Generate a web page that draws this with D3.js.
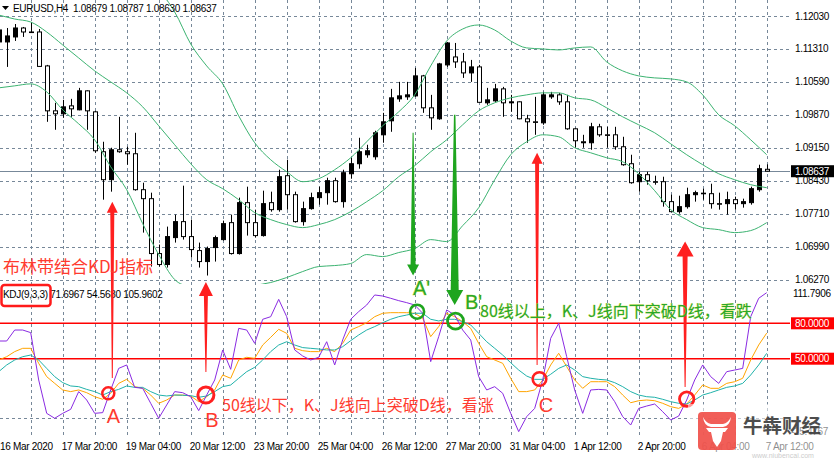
<!DOCTYPE html>
<html><head><meta charset="utf-8">
<script src="https://cdn.jsdelivr.net/npm/d3@7"></script>
<style>
body{margin:0;background:#fff;}
svg{display:block;}
text{font-family:"Liberation Sans",Arial,sans-serif;}
.cjk{font-family:"Noto Sans CJK SC",sans-serif;}
</style>
</head><body>
<svg id="c" width="834" height="459"></svg>
<script>
// ---------------- DATA ----------------
const symbolTitle = "EURUSD,H4";
const titleValues = "1.08679 1.08787 1.08630 1.08637";
const opens = [1.11463,1.11463,1.11572,1.11768,1.11681,1.11681,1.10939,1.09957,1.09892,1.10066,
 1.09979,1.10394,1.09935,1.09063,1.08452,1.09106,1.09063,1.09019,1.08233,1.08037,
 1.06837,1.06597,1.07186,1.07535,1.07208,1.06902,1.06662,1.06968,1.07142,1.07513,
 1.06837,1.0795,1.07513,1.0723,1.0795,1.07797,1.08539,1.08124,1.07535,1.07819,
 1.08059,1.08168,1.0843,1.07972,1.08582,1.08801,1.08997,1.08953,1.09433,1.09739,
 1.10219,1.10263,1.10284,1.10721,1.10023,1.09783,1.10961,1.11135,1.11026,1.10786,
 1.10917,1.10132,1.10175,1.10437,1.10132,1.10154,1.09783,1.09717,1.09695,1.10263,
 1.10306,1.10154,1.09564,1.09281,1.09259,1.09608,1.09433,1.09433,1.09172,1.08801,
 1.08408,1.08561,1.08408,1.08408,1.07972,1.07753,1.07862,1.08124,1.08146,1.08146,
 1.07928,1.07928,1.08015,1.07928,1.0795,1.08233,1.08679];
const highs = [1.11943,1.11768,1.11855,1.1179,1.11899,1.11746,1.10961,1.10132,1.10197,1.10219,
 1.10459,1.10404,1.09957,1.09281,1.0915,1.09826,1.09172,1.09477,1.08386,1.08168,
 1.07033,1.07426,1.07688,1.08321,1.07579,1.07077,1.0699,1.0723,1.07557,1.07688,
 1.08059,1.08299,1.07797,1.08212,1.0819,1.0867,1.08888,1.0819,1.07972,1.08168,
 1.08299,1.08495,1.08495,1.0867,1.08932,1.09368,1.09215,1.09521,1.09913,1.10437,
 1.1059,1.1059,1.10895,1.10743,1.10306,1.11005,1.11463,1.11441,1.11223,1.1107,
 1.10961,1.10459,1.10546,1.10481,1.10306,1.10164,1.0987,1.10263,1.10372,1.10372,
 1.1035,1.10306,1.09586,1.09433,1.09695,1.09673,1.09608,1.09608,1.0939,1.08997,
 1.08626,1.08626,1.08539,1.08517,1.08124,1.08102,1.08277,1.08212,1.08255,1.08364,
 1.08168,1.0819,1.08081,1.08037,1.08299,1.08779,1.08787];
const lows = [1.11288,1.10917,1.11485,1.11572,1.11659,1.10917,1.09717,1.09543,1.09804,1.09826,
 1.09968,1.09543,1.09041,1.08015,1.0819,1.09041,1.08779,1.08212,1.07295,1.06553,
 1.06553,1.06531,1.07077,1.07142,1.0675,1.06531,1.06357,1.06662,1.07121,1.06815,
 1.06815,1.0723,1.07186,1.07208,1.07753,1.07753,1.07797,1.07513,1.07448,1.07797,
 1.07906,1.07906,1.0795,1.07841,1.08473,1.08692,1.08932,1.08888,1.09259,1.09499,
 1.10154,1.10197,1.10263,1.09913,1.09543,1.09761,1.10917,1.10895,1.10677,1.1059,
 1.10132,1.10088,1.10154,1.09826,1.09935,1.09772,1.09259,1.09433,1.09652,1.10219,
 1.10088,1.09543,1.0915,1.0915,1.09106,1.0939,1.0915,1.09106,1.08757,1.08364,
 1.0819,1.08342,1.08342,1.07862,1.07742,1.0771,1.07819,1.07972,1.08015,1.07819,
 1.07797,1.07688,1.07797,1.07841,1.07906,1.0819,1.0863];
const closes = [1.11725,1.11594,1.11768,1.11681,1.1167,1.10928,1.09957,1.09892,1.10044,1.10001,
 1.10394,1.09957,1.09084,1.08452,1.09106,1.09063,1.09019,1.08233,1.08037,1.06837,
 1.06597,1.07208,1.07535,1.07208,1.06924,1.06662,1.06946,1.07186,1.07491,1.06837,
 1.0795,1.07513,1.0723,1.07928,1.07797,1.08517,1.08124,1.07535,1.07819,1.08059,
 1.08168,1.0843,1.07972,1.08604,1.08801,1.09063,1.09084,1.09477,1.09717,1.10241,
 1.10284,1.10306,1.10721,1.10023,1.09804,1.10983,1.11441,1.11026,1.10786,1.10917,
 1.10143,1.10197,1.10437,1.10132,1.10154,1.09783,1.09717,1.09706,1.10306,1.10306,
 1.10154,1.09564,1.09303,1.09259,1.09608,1.09433,1.09422,1.09172,1.08779,1.08386,
 1.08561,1.0843,1.08397,1.07972,1.07753,1.07862,1.08124,1.08168,1.08157,1.07928,
 1.07917,1.08015,1.07928,1.07972,1.08255,1.08692,1.08637];

// Bollinger bands, read every second bar
const bandBars = [0,2,4,6,8,10,12,14,16,18,20,22,24,26,28,30,32,34,36,38,40,42,44,46,48,
 50,52,54,56,58,60,62,64,66,68,70,72,74,76,78,80,82,84,86,88,90,92,94,96];
const bandUpper = [1.13645,1.13426,1.13252,1.13077,1.12946,1.12815,1.12728,1.12685,1.12663,1.12641,
 1.12554,1.12117,1.11419,1.10939,1.10546,1.09848,1.09259,1.08888,1.08626,1.08408,
 1.08473,1.0867,1.08931,1.09281,1.0963,1.09935,1.10306,1.10939,1.11484,1.11746,
 1.11834,1.11724,1.11484,1.11332,1.1131,1.11288,1.11332,1.11354,1.11026,1.1083,
 1.10721,1.10677,1.10655,1.1059,1.10306,1.0987,1.0963,1.09324,1.08997];
const bandMiddle = [1.12052,1.11964,1.11899,1.11681,1.11397,1.11113,1.1083,1.1059,1.1035,1.10044,
 1.0963,1.09215,1.08801,1.08451,1.08255,1.08015,1.07731,1.07579,1.0747,1.07404,
 1.0747,1.07579,1.07753,1.07971,1.08211,1.08517,1.08757,1.09062,1.09324,1.09652,
 1.09957,1.10132,1.10241,1.10306,1.1035,1.1035,1.10241,1.10197,1.10022,1.09826,
 1.09652,1.09477,1.09237,1.08997,1.08779,1.08582,1.08451,1.08342,1.08277];
const bandLower = [1.10459,1.10503,1.10546,1.10372,1.09979,1.09673,1.09324,1.08735,1.08233,1.07491,
 1.06815,1.06269,1.06095,1.06008,1.06008,1.06051,1.06139,1.06204,1.06313,1.06444,
 1.06553,1.06575,1.06619,1.06815,1.06771,1.06859,1.06946,1.07142,1.07099,1.07448,
 1.0784,1.08451,1.08997,1.09281,1.09433,1.0939,1.0915,1.0904,1.08931,1.08844,
 1.08582,1.08211,1.07797,1.07579,1.07404,1.0736,1.07295,1.07339,1.07513];

// KDJ(9,3,3)
const kdjK = [48.9,51.7,56.0,58.8,58.8,46.1,34.8,29.1,23.5,22.1,
 23.5,21.2,17.8,15.6,20.7,29.1,32.5,26.3,24.9,19.2,
 12.2,15.0,19.2,19.2,18.4,13.6,17.8,23.5,36.2,33.4,
 48.9,51.2,50.3,61.6,68.1,74.9,71.5,58.8,56.8,56.0,
 56.0,58.8,56.0,63.0,74.3,77.2,80.5,85.6,88.5,89.0,
 89.0,89.0,88.5,84.2,68.7,77.2,88.5,85.6,81.4,75.7,
 63.0,51.7,48.9,46.1,33.4,22.1,22.1,23.5,31.95,44.7,
 54.6,43.3,31.95,24.9,30.5,30.5,30.5,26.3,19.2,12.7,
 14.4,15.0,14.4,12.2,9.35,7.9,11.6,19.2,27.7,24.9,
 24.9,29.1,30.5,33.4,48.9,61.6,71.6967];
const kdjD = [39.0,44.7,48.9,51.7,53.1,48.9,41.8,34.8,29.7,26.9,
 26.3,24.0,22.1,19.2,22.1,24.0,26.9,25.7,25.7,22.1,
 19.2,18.4,19.2,19.0,18.7,17.3,18.4,22.1,26.3,27.7,
 33.4,39.0,42.7,48.9,56.0,61.6,64.4,61.6,59.4,58.8,
 58.2,57.4,57.4,60.2,65.3,70.1,74.3,77.2,80.5,83.4,
 85.6,87.0,88.5,88.5,83.4,82.0,83.4,83.4,81.4,78.6,
 71.5,64.4,58.8,53.1,46.6,40.4,35.3,32.5,32.5,36.8,
 41.8,44.7,40.4,34.8,33.4,32.5,31.95,29.7,26.3,22.1,
 19.2,17.8,17.3,15.6,13.6,12.2,11.6,15.0,19.2,21.2,
 23.5,25.7,26.9,29.1,36.2,44.7,54.568];
const kdjJ = [65.0,65.0,74.3,74.3,72.1,31.95,3.7,-0.5,3.7,7.1,
 22.1,15.0,3.7,4.3,23.5,41.8,44.7,25.7,24.9,12.2,
 -0.5,10.8,22.1,21.2,17.8,6.0,19.2,31.95,57.4,41.0,
 75.7,74.3,63.0,83.4,85.6,100.3,85.6,57.4,52.3,48.9,
 51.2,64.4,44.7,65.9,83.4,89.9,95.5,104.0,103.1,101.2,
 99.2,97.5,95.5,88.5,47.5,68.7,91.3,87.0,74.3,65.9,
 34.8,23.5,26.3,20.7,3.7,-11.8,0.9,7.9,31.95,67.3,
 80.0,51.7,23.5,3.7,23.5,24.0,23.5,13.6,0.9,-6.2,
 7.9,9.9,11.6,5.1,-1.95,1.4,15.0,31.95,44.7,34.8,
 29.1,39.0,40.4,41.8,85.6,101.2,105.9602];
const kdjLegend = "KDJ(9,3,3) 71.6967 54.5680 105.9602";
const kdjLevels = [80, 50];
const kdjLevelLabels = ["80.0000", "50.0000"];
const kdjScaleLabels = ["111.7906", "-15.4767"];

const priceTicks = [1.12030,1.11310,1.10590,1.09870,1.09150,1.08430,1.07710,1.06990,1.06270];
const lastPrice = 1.08637;
const timeTickBars = [0,8,16,24,32,40,48,56,64,72,80,88,96];
const timeTickLabels = ["16 Mar 2020","17 Mar 20:00","19 Mar 04:00","20 Mar 12:00","23 Mar 20:00",
 "25 Mar 04:00","26 Mar 12:00","27 Mar 20:00","31 Mar 04:00","1 Apr 12:00","2 Apr 20:00",
 "6 Apr 04:00","7 Apr 12:00"];
const gridBars = [4,8,12,16,20,24,28,32,36,40,44,48,52,56,60,64,68,72,76,80,84,88,92,96];

// ---------------- SCALES ----------------
const svg = d3.select("#c");
const PR = 790;
const x = d3.scaleLinear().domain([0, 96]).range([-1.3, 766.7]);
const yP = d3.scaleLinear().domain([1.0627, 1.1203]).range([279.5, 16]);
const yK = d3.scaleLinear().domain([0, 80]).range([417.7, 323.3]);
const px = v => Math.round(v) + 0.5;

const defs = svg.append("defs");
defs.append("clipPath").attr("id","clipMain").append("rect").attr("x",0).attr("y",0).attr("width",PR).attr("height",284);
defs.append("clipPath").attr("id","clipInd").append("rect").attr("x",0).attr("y",285).attr("width",PR).attr("height",153);

const gridColor = "#778899";
// grid
const grid = svg.append("g").attr("stroke", gridColor).attr("stroke-width",1).attr("stroke-dasharray","3,3");
grid.selectAll("line.v").data(gridBars).join("line")
  .attr("x1", d=>px(x(d))).attr("x2", d=>px(x(d))).attr("y1",0).attr("y2",438);
grid.selectAll("line.h").data(priceTicks).join("line").attr("class","h")
  .attr("x1",0).attr("x2",PR).attr("y1",d=>px(yP(d))).attr("y2",d=>px(yP(d)));
grid.append("line").attr("x1",0).attr("x2",PR).attr("y1",px(yK(0))).attr("y2",px(yK(0)));

// current price line
svg.append("line").attr("x1",0).attr("x2",PR).attr("y1",px(yP(lastPrice))).attr("y2",px(yP(lastPrice)))
  .attr("stroke","#778899").attr("stroke-width",1);

// ---------------- MAIN: candles ----------------
const main = svg.append("g").attr("clip-path","url(#clipMain)");
const bars = d3.range(opens.length);
const cg = main.append("g");
cg.selectAll("line.w").data(bars).join("line")
  .attr("x1", i=>px(x(i))).attr("x2", i=>px(x(i)))
  .attr("y1", i=>yP(highs[i])).attr("y2", i=>yP(lows[i]))
  .attr("stroke","#000").attr("stroke-width",1);
cg.selectAll("rect.b").data(bars).join("rect")
  .attr("x", i=>Math.round(x(i))-1.5)
  .attr("width",4)
  .attr("y", i=>Math.min(yP(opens[i]), yP(closes[i])))
  .attr("height", i=>Math.max(0.6, Math.abs(yP(opens[i])-yP(closes[i]))))
  .attr("fill", i=> closes[i]>opens[i] ? "#000" : "#fff")
  .attr("stroke","#000").attr("stroke-width",1);

// bands
const bandLine = arr => d3.line().x((d,k)=>x(bandBars[k])).y(d=>yP(d)).curve(d3.curveMonotoneX)(arr);
[bandUpper, bandMiddle, bandLower].forEach(arr=>{
  main.append("path").attr("d", bandLine(arr)).attr("fill","none").attr("stroke","#3cb371").attr("stroke-width",1);
});

// ---------------- INDICATOR ----------------
const ind = svg.append("g").attr("clip-path","url(#clipInd)");
kdjLevels.forEach(v=>{
  ind.append("line").attr("x1",0).attr("x2",PR).attr("y1",yK(v)).attr("y2",yK(v))
    .attr("stroke","#ff0000").attr("stroke-width",1.5);
});
const kLine = d3.line().x((d,i)=>x(i)).y(d=>yK(d));
[[kdjK,"#ffa500"],[kdjD,"#20b2aa"],[kdjJ,"#8a2be2"]].forEach(([arr,c])=>{
  ind.append("path").attr("d",kLine(arr)).attr("fill","none").attr("stroke",c).attr("stroke-width",1);
});

// ---------------- AXES TEXT ----------------
const tg = svg.append("g").attr("font-size","10px").attr("letter-spacing","-0.3px").attr("fill","#000");
tg.selectAll("text.p").data(priceTicks).join("text")
  .attr("x",795).attr("y",d=>yP(d)+3.5).text(d=>d.toFixed(5));
tg.selectAll("text.t").data(timeTickBars).join("text")
  .attr("x",(d)=>Math.max(0, x(d)-1)).attr("y",450).text((d,k)=>timeTickLabels[k]);

// last price box
svg.append("rect").attr("x",791).attr("y",yP(lastPrice)-6).attr("width",43).attr("height",12).attr("fill","#000");
svg.append("text").attr("x",795).attr("y",yP(lastPrice)+3.5).attr("font-size","10px").attr("letter-spacing","-0.3px")
  .attr("fill","#fff").text(lastPrice.toFixed(5));

// level labels
kdjLevels.forEach((v,k)=>{
  svg.append("rect").attr("x",791).attr("y",yK(v)-6).attr("width",43).attr("height",12).attr("fill","#ff0000");
  svg.append("text").attr("x",795).attr("y",yK(v)+3.5).attr("font-size","10px").attr("letter-spacing","-0.3px")
    .attr("fill","#fff").text(kdjLevelLabels[k]);
});
svg.append("text").attr("x",793).attr("y",297).attr("font-size","10px").attr("letter-spacing","-0.3px").text(kdjScaleLabels[0]);
svg.append("text").attr("x",791).attr("y",435).attr("font-size","10px").attr("letter-spacing","-0.3px").text(kdjScaleLabels[1]);

// title
svg.append("path").attr("d","M2,6 L9,6 L5.5,10 Z").attr("fill","#000");
svg.append("text").attr("x",13).attr("y",11.5).attr("font-size","10px").attr("letter-spacing","-0.3px").text(symbolTitle);
svg.append("text").attr("x",73).attr("y",11.5).attr("font-size","10px").attr("letter-spacing","-0.3px").text(titleValues);

// legend
svg.append("text").attr("x",3).attr("y",298).attr("font-size","10px").attr("letter-spacing","-0.3px").text(kdjLegend);
svg.append("rect").attr("x",1.5).attr("y",285).attr("width",49).attr("height",21).attr("rx",3)
  .attr("fill","none").attr("stroke","#ff1a1a").attr("stroke-width",2.5);

// ---------------- ANNOTATIONS ----------------
const RED = "#ff2020", GREEN = "#1ea51e";
function arrow(bar, yTail, yTip, wTail, wNeck, headW, headL, color){
  const cx = x(bar);
  const s = yTip < yTail ? 1 : -1;
  const neck = yTip + s*headL;
  const pts = [[cx-wTail/2,yTail],[cx-wNeck/2,neck],[cx-headW/2,neck],[cx,yTip],
               [cx+headW/2,neck],[cx+wNeck/2,neck],[cx+wTail/2,yTail]];
  svg.append("polygon").attr("points",pts.map(p=>p.join(",")).join(" ")).attr("fill",color);
}
// red up arrows (tail in indicator panel, tip in price panel)
arrow(14.2, yK(33.6), yP(1.07972), 1, 4, 11, 11, RED);
arrow(25.9, yK(38.7), 282, 1, 4, 14, 14, RED);
arrow(67.3, yK(44.7), yP(1.09041), 1, 4, 11, 11, RED);
arrow(85.8, yK(26.0), yP(1.07099), 1, 5, 17, 15, RED);
// green down arrows
arrow(51.8, yP(1.09477), yP(1.06357), 1, 5, 12, 11, GREEN);
arrow(57.0, yP(1.09870), yK(95.5), 1.5, 8, 17, 15, GREEN);

// circles
const circles = [[13.7,20.7,6,RED,2.5],[25.9,19.2,8,RED,3],[67.6,32.8,6.8,RED,2.6],[86.0,15.8,7.2,RED,2.8],
                 [52.3,89.8,7,GREEN,2.6],[57.1,81.9,8,GREEN,2.8]];
circles.forEach(([b,v,r,c,w])=>{
  svg.append("circle").attr("cx",x(b)).attr("cy",yK(v)).attr("r",r).attr("fill","none").attr("stroke",c).attr("stroke-width",w);
});

// letters
const letterStyle = (t,c)=>t.attr("font-size","20px").attr("fill",c);
letterStyle(svg.append("text").attr("x",113.5).attr("y",423).attr("text-anchor","middle").text("A"), "#ff3b2f");
letterStyle(svg.append("text").attr("x",212).attr("y",427).attr("text-anchor","middle").text("B"), "#ff3b2f");
letterStyle(svg.append("text").attr("x",546).attr("y",412).attr("text-anchor","middle").text("C"), "#ff3b2f");
letterStyle(svg.append("text").attr("x",413).attr("y",295).text("A'"), "#2aa82a")
  .attr("stroke","#d6e030").attr("stroke-width",0.6).attr("paint-order","stroke");
letterStyle(svg.append("text").attr("x",465).attr("y",309).text("B'"), "#2aa82a")
  .attr("stroke","#d6e030").attr("stroke-width",0.6).attr("paint-order","stroke");

// chinese texts
svg.append("text").attr("class","cjk").attr("x",3).attr("y",273).attr("font-size","17px").attr("fill","#ff3b2f").text("布林带结合KDJ指标");
svg.append("text").attr("class","cjk").attr("x",222).attr("y",411).attr("font-size","16px").attr("fill","#ff3b2f").text("50线以下，K、J线向上突破D线，看涨");
svg.append("text").attr("class","cjk").attr("x",480).attr("y",317).attr("font-size","16px").attr("fill","#2aa82a")
  .attr("stroke","#d6e030").attr("stroke-width",0.4).attr("paint-order","stroke").text("80线以上，K、J线向下突破D线，看跌");

// watermark logo
svg.append("rect").attr("x",688).attr("y",404).attr("width",146).attr("height",55).attr("fill","#fff").attr("opacity",0.55);
const logo = svg.append("g").attr("transform","translate(698,412)");
logo.append("rect").attr("width",38).attr("height",38).attr("rx",4).attr("fill","#f0504a").attr("opacity",0.92);
logo.append("path").attr("fill","#fff")
  .attr("d","M5,5 Q6,14 13,15 L25,15 Q32,14 33,5 Q30,11 25,12 L13,12 Q8,11 5,5 Z M8,16 L30,16 L27,20 L25,20 L23,29 L19,35 L15,29 L13,20 L11,20 Z");
svg.append("text").attr("class","cjk").attr("x",743).attr("y",433).attr("font-size","19.5px").attr("font-weight","bold")
  .attr("fill","#3a3a3a").attr("opacity",0.9).text("牛犇财经");
svg.append("text").attr("x",752).attr("y",458).attr("font-size","7px").attr("fill","#999").attr("opacity",0.5).text("www.niubencai.com");
</script>
</body></html>
